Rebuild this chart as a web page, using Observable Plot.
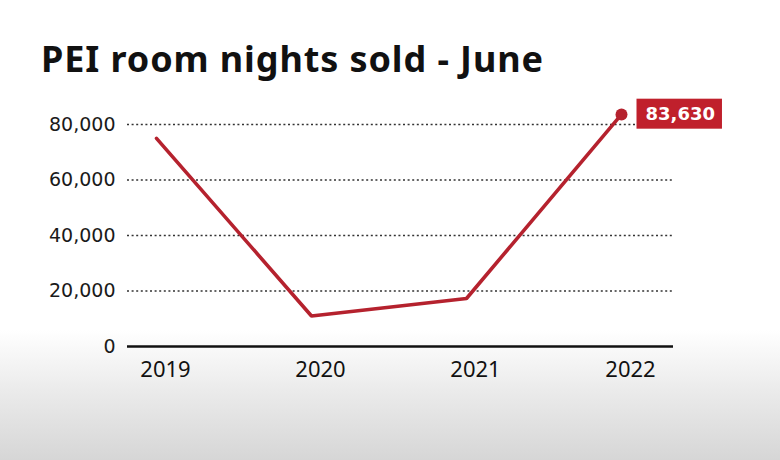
<!DOCTYPE html>
<html>
<head>
<meta charset="utf-8">
<script src="https://cdn.jsdelivr.net/npm/d3@7"></script>
<script src="https://cdn.jsdelivr.net/npm/@observablehq/plot@0.6"></script>
<style>
  html, body { margin: 0; padding: 0; }
  body {
    width: 780px; height: 460px; position: relative; overflow: hidden;
    background: linear-gradient(to bottom, #ffffff 0px, #ffffff 330px, #ebebeb 390px, #d6d6d6 460px);
  }
  #title {
    position: absolute; left: 41px; top: 41px; margin: 0;
    font-family: "Noto Sans", sans-serif; font-weight: 700; font-size: 36px; line-height: 1;
    color: #111; letter-spacing: 0.9px; white-space: nowrap;
  }
  #chart { position: absolute; left: 0; top: 0; }
  #chart svg { background: transparent; overflow: visible; }
</style>
</head>
<body>
<div id="chart"></div>
<h1 id="title">PEI room nights sold - June</h1>
<script>
const years = ["2019", "2020", "2021", "2022"];
const roomNights = [75000, 11000, 17300, 83630];
const yTicks = [0, 20000, 40000, 60000, 80000];
const gridTicks = [20000, 40000, 60000, 80000];

const data = years.map((year, i) => ({year, value: roomNights[i]}));
const last = [data[data.length - 1]];
const red = "#b5222e";
const fmt = d3.format(",");

const plot = Plot.plot({
  width: 780,
  height: 460,
  marginTop: 124,
  marginBottom: 114,
  marginLeft: 127,
  marginRight: 107,
  style: {background: "transparent", overflow: "visible"},
  x: {type: "point", domain: years, padding: 0, insetLeft: 28, insetRight: 52},
  y: {domain: [0, 80000]},
  marks: [
    Plot.ruleY(gridTicks, {stroke: "#333", strokeWidth: 1.3, strokeDasharray: "2,2.6"}),
    Plot.ruleY([0], {stroke: "#111", strokeWidth: 2.6}),
    Plot.axisY(yTicks, {tickSize: 0, tickPadding: 12, tickFormat: fmt, fontSize: 19,
      fontFamily: "DejaVu Sans", fill: "#1a1a1a", label: null}),
    Plot.axisX({tickSize: 0, tickPadding: 15, fontSize: 22, dx: 9,
      fontFamily: "Noto Sans", fill: "#111", label: null}),
    Plot.line(data, {x: "year", y: "value", stroke: red, strokeWidth: 3.6, strokeLinejoin: "miter"}),
    Plot.dot(last, {x: "year", y: "value", r: 6, fill: red}),
    Plot.text(last, {x: "year", y: "value", text: d => fmt(d.value), dx: 24, textAnchor: "start",
      fill: "white", fontSize: 18, fontWeight: 700, fontFamily: "DejaVu Sans"})
  ]
});
document.getElementById("chart").appendChild(plot);

// red label box behind the end-value text
const svg = plot;
const textGroups = svg.querySelectorAll('g[aria-label="text"]');
const sb = svg.getBoundingClientRect();
textGroups.forEach(g => {
  g.querySelectorAll("text").forEach(t => {
    const b = t.getBoundingClientRect();
    const cy = b.top - sb.top + b.height / 2;
    const rect = document.createElementNS("http://www.w3.org/2000/svg", "rect");
    rect.setAttribute("x", b.left - sb.left - 9);
    rect.setAttribute("y", cy - 15);
    rect.setAttribute("width", b.width + 16);
    rect.setAttribute("height", 30);
    rect.setAttribute("fill", "#c0202c");
    g.parentNode.insertBefore(rect, g);
  });
});
</script>
</body>
</html>
